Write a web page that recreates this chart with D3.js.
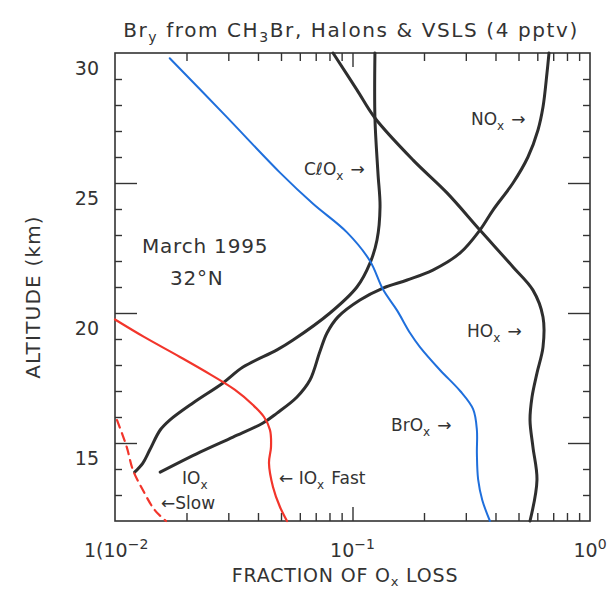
<!DOCTYPE html>
<html>
<head>
<meta charset="utf-8">
<script src="https://cdn.jsdelivr.net/npm/d3@7"></script>
<style>
  body { margin: 0; background: #fff; }
  text { font-family: "DejaVu Sans", "Liberation Sans", sans-serif; fill: #333; }
</style>
</head>
<body>
<svg id="chart" width="613" height="590"></svg>
<script>
"use strict";

// Altitude (km) and fraction of Ox loss
var altBrOx  = [29.8, 27.6, 25.4, 24.2, 23.1, 22.0, 20.9, 20.1, 19.23, 18.69, 17.8, 17.0, 16.3, 15.5, 14.6, 13.6, 12.8, 12.0];
var fracBrOx = [0.0170, 0.0291, 0.0495, 0.0682, 0.0948, 0.1185, 0.1345, 0.154, 0.1747, 0.1924, 0.234, 0.284, 0.322, 0.334, 0.334, 0.338, 0.352, 0.379];

var altHOx  = [30.0, 28.58, 27.5, 25.88, 24.62, 23.19, 21.77, 20.88, 19.85, 18.69, 17.69, 16.77, 15.88, 14.85, 13.58, 12.0];
var fracHOx = [0.0828, 0.1044, 0.1243, 0.180, 0.250, 0.344, 0.474, 0.575, 0.634, 0.634, 0.598, 0.570, 0.559, 0.575, 0.598, 0.559];

var altClOx  = [30.0, 27.5, 25.38, 24.08, 22.81, 21.92, 21.0, 20.0, 18.96, 18.58, 17.92, 17.31, 16.54, 15.88, 15.5, 14.73, 14.23, 13.88];
var fracClOx = [0.1243, 0.1243, 0.128, 0.1306, 0.1268, 0.1185, 0.1044, 0.0804, 0.0562, 0.0481, 0.0346, 0.0285, 0.0213, 0.0170, 0.0155, 0.0140, 0.0131, 0.0121];

var altNOx  = [30.0, 29.23, 27.92, 27.04, 26.0, 25.0, 23.96, 23.19, 22.31, 21.65, 21.27, 20.96, 20.5, 19.85, 19.23, 18.5, 17.42, 16.77, 16.15, 15.77, 15.23, 14.65, 13.88];
var fracNOx = [0.672, 0.659, 0.634, 0.604, 0.548, 0.474, 0.3905, 0.344, 0.284, 0.218, 0.170, 0.1345, 0.1075, 0.0869, 0.0781, 0.0728, 0.0662, 0.0584, 0.0481, 0.042, 0.0314, 0.0228, 0.0155];

var altIOxFast  = [19.75, 19.08, 18.31, 17.62, 17.04, 16.46, 16.0, 15.5, 14.85, 14.23, 13.31, 12.54, 12.0];
var fracIOxFast = [0.0100, 0.01325, 0.01877, 0.02537, 0.03202, 0.03812, 0.04241, 0.04494, 0.04538, 0.0445, 0.04626, 0.04951, 0.053];

var altIOxSlow  = [15.88, 14.85, 13.96, 13.19, 12.42, 12.0];
var fracIOxSlow = [0.0102, 0.0112, 0.0119, 0.0131, 0.0147, 0.0164];

var xDecades = [0.01, 0.1, 1];
var yMajor = [15, 20, 25, 30];

var svg = d3.select('#chart');
var x = d3.scaleLog().domain([0.01, 1]).range([115, 590]);
var y = d3.scaleLinear().domain([12, 30]).range([521, 53]);

var ink = '#333';

function zip(alts, fracs) {
  return alts.map(function(a, i) { return {alt: a, frac: fracs[i]}; });
}

// minor tick values
var xMinor = [];
[0.01, 0.1].forEach(function(d) {
  for (var k = 2; k <= 9; k++) xMinor.push(d * k);
});
var yMinor = d3.range(13, 30).filter(function(v) { return yMajor.indexOf(v) < 0; });

function styleAxis(g) {
  g.select('.domain').remove();
  g.selectAll('line').attr('stroke', ink).attr('stroke-width', 1.4);
}

// bottom and top ticks (inward)
svg.append('g').attr('transform', 'translate(0,521)')
  .call(d3.axisBottom(x).tickValues(xMinor).tickSize(-8).tickFormat(''))
  .call(styleAxis);
svg.append('g').attr('transform', 'translate(0,521)')
  .call(d3.axisBottom(x).tickValues([0.1]).tickSize(-14).tickFormat(''))
  .call(styleAxis);
svg.append('g').attr('transform', 'translate(0,53)')
  .call(d3.axisTop(x).tickValues(xMinor).tickSize(-8).tickFormat(''))
  .call(styleAxis);
svg.append('g').attr('transform', 'translate(0,53)')
  .call(d3.axisTop(x).tickValues([0.1]).tickSize(-14).tickFormat(''))
  .call(styleAxis);

// left and right ticks (inward)
svg.append('g').attr('transform', 'translate(115,0)')
  .call(d3.axisLeft(y).tickValues(yMinor).tickSize(-7).tickFormat(''))
  .call(styleAxis);
svg.append('g').attr('transform', 'translate(115,0)')
  .call(d3.axisLeft(y).tickValues([15, 20, 25]).tickSize(-22).tickFormat(''))
  .call(styleAxis);
svg.append('g').attr('transform', 'translate(590,0)')
  .call(d3.axisRight(y).tickValues(yMinor).tickSize(-7).tickFormat(''))
  .call(styleAxis);
svg.append('g').attr('transform', 'translate(590,0)')
  .call(d3.axisRight(y).tickValues([15, 20, 25]).tickSize(-22).tickFormat(''))
  .call(styleAxis);

// frame
svg.append('rect')
  .attr('x', 115).attr('y', 53)
  .attr('width', 475).attr('height', 468)
  .attr('fill', 'none').attr('stroke', ink).attr('stroke-width', 1.6);

// y tick labels (sit a little below their ticks, as in the original)
svg.append('g').selectAll('text').data(yMajor).join('text')
  .attr('x', 99).attr('y', function(d) { return y(d) + 22; })
  .attr('text-anchor', 'end')
  .style('font-size', '19px')
  .text(function(d) { return d; });

// x tick labels
var xl = svg.append('g').style('font-size', '19px');
xDecades.forEach(function(d, i) {
  var exp = Math.round(Math.log10(d));
  var t = xl.append('text')
    .attr('x', i === 0 ? 84 : x(d)).attr('y', 557)
    .attr('text-anchor', i === 0 ? 'start' : 'middle');
  if (i === 0) t.append('tspan').text('1(');
  t.append('tspan').text('10');
  t.append('tspan').attr('dy', -8).style('font-size', '14px')
    .text(exp === 0 ? '0' : '\u2212' + Math.abs(exp));
});

// axis titles
svg.append('text')
  .attr('transform', 'translate(40,297) rotate(-90)')
  .attr('text-anchor', 'middle')
  .style('font-size', '20px')
  .style('letter-spacing', '1.2px')
  .text('ALTITUDE (km)');

var xt = svg.append('text')
  .attr('x', 345).attr('y', 582)
  .attr('text-anchor', 'middle')
  .style('font-size', '19px')
  .style('letter-spacing', '0.8px');
xt.append('tspan').text('FRACTION OF O');
xt.append('tspan').attr('dy', 4).style('font-size', '13px').text('x');
xt.append('tspan').attr('dy', -4).text(' LOSS');

// title
var tt = svg.append('text')
  .attr('x', 351).attr('y', 37)
  .attr('text-anchor', 'middle')
  .style('font-size', '20px')
  .style('letter-spacing', '1.6px');
tt.append('tspan').text('Br');
tt.append('tspan').attr('dy', 5).style('font-size', '14px').text('y');
tt.append('tspan').attr('dy', -5).text(' from CH');
tt.append('tspan').attr('dy', 5).style('font-size', '14px').text('3');
tt.append('tspan').attr('dy', -5).text('Br, Halons & VSLS (4 pptv)');

// curves
var line = d3.line()
  .x(function(d) { return x(d.frac); })
  .y(function(d) { return y(d.alt); })
  .curve(d3.curveCatmullRom.alpha(0.5));

var series = [
  {data: zip(altHOx, fracHOx), color: '#2e2e2e', width: 3},
  {data: zip(altNOx, fracNOx), color: '#2e2e2e', width: 3},
  {data: zip(altClOx, fracClOx), color: '#2e2e2e', width: 3},
  {data: zip(altBrOx, fracBrOx), color: '#1f6fdc', width: 2},
  {data: zip(altIOxFast, fracIOxFast), color: '#f2352b', width: 2.2},
  {data: zip(altIOxSlow, fracIOxSlow), color: '#f2352b', width: 2.2, dash: '8,6'}
];

svg.append('g').selectAll('path').data(series).join('path')
  .attr('d', function(s) { return line(s.data); })
  .attr('fill', 'none')
  .attr('stroke', function(s) { return s.color; })
  .attr('stroke-width', function(s) { return s.width; })
  .attr('stroke-dasharray', function(s) { return s.dash || null; })
  .attr('stroke-linecap', 'round');

// in-plot labels; objects {sub: ...} become subscripts
function label(px, py, parts, size) {
  var t = svg.append('text').attr('x', px).attr('y', py)
    .style('font-size', (size || 17) + 'px');
  parts.forEach(function(p) {
    if (typeof p === 'object') {
      t.append('tspan').attr('dy', 5).style('font-size', '12px').text(p.sub);
      t.append('tspan').attr('dy', -5).text('\u200a');
    } else {
      t.append('tspan').text(p);
    }
  });
  return t;
}

label(304, 175, ['C\u2113O', {sub: 'x'}, ' \u2192']);
label(471, 125, ['NO', {sub: 'x'}, ' \u2192']);
label(467, 337, ['HO', {sub: 'x'}, ' \u2192']);
label(391, 431, ['BrO', {sub: 'x'}, ' \u2192']);
label(182, 484, ['IO', {sub: 'x'}]);
label(279, 484, ['\u2190 IO', {sub: 'x'}, ' Fast']);
label(161, 509, ['\u2190Slow']);
label(142, 253, ['March 1995'], 20).style('letter-spacing', '0.8px');
label(170, 285, ['32\u00b0N'], 20).style('letter-spacing', '0.8px');
</script>
</body>
</html>
